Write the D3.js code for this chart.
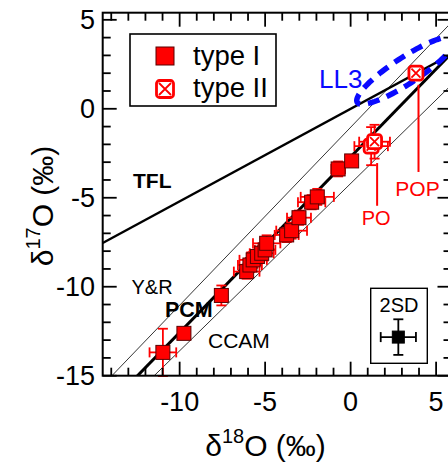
<!DOCTYPE html>
<html><head><meta charset="utf-8">
<script src="https://cdn.jsdelivr.net/npm/d3@7"></script>
<style>
body{margin:0;background:#fff;}
svg{display:block;font-family:"Liberation Sans",Arial,Helvetica,sans-serif;}
</style>
</head><body>
<svg id="c" width="448" height="467"></svg>
<script>
// ---------- data ----------
const typeIX  = [-10.98, -9.75, -7.56, -6.08, -5.89, -5.70, -5.45, -5.20, -5.00, -4.91, -3.74, -3.45, -3.02, -2.28, -1.95, -0.73, 0.06];
const typeIY  = [-13.69, -12.62, -10.49, -9.15, -8.78, -8.49, -8.30, -8.12, -7.93, -7.56, -7.09, -6.85, -6.12, -5.25, -4.95, -3.38, -2.93];
const typeIEX = [0.78, 0.20, 0.30, 0.75, 0.70, 0.80, 0.60, 0.70, 0.60, 0.80, 0.70, 0.90, 0.70, 0.80, 0.97, 0.40, 0.30];
const typeIEY = [1.33, 0.20, 0.56, 0.40, 0.40, 0.45, 0.40, 0.40, 0.35, 0.45, 0.40, 0.45, 0.40, 0.40, 0.45, 0.42, 0.30];

const typeIIX  = [1.20, 1.40, 3.82];
const typeIIY  = [-2.10, -1.85, 2.00];
const typeIIEX = [0.98, 0.90, 0];
const typeIIEY = [1.07, 0.95, 0];

const lineNames      = ["TFL", "PCM", "Y&R", "CCAM"];
const lineSlopes     = [0.52, 0.987, 1.00, 0.94];
const lineIntercepts = [0.00, -2.70, -1.04, -4.20];

const llCenter = [3.23, 2.15];
const llMajor  = [2.84, 1.79];
const llMinor  = [0.42, -0.615];

const sdX = [2.79], sdY = [-12.83], sdEX = [1.03], sdEY = [1.00];

const xMajorTicks = [-10, -5, 0, 5];
const yMajorTicks = [-15, -10, -5, 0, 5];
const xDomain = [-14.5, 5.9];
const yDomain = [-15, 5.4];

// ---------- layout ----------
const svg = d3.select("#c");
const L = 102.7, T = 12.7, B = 375.7, R = 451.5;
const x = d3.scaleLinear().domain(xDomain).range([L, R]);
const y = d3.scaleLinear().domain(yDomain).range([B, T]);
const RED = "#ff0000", DARK = "#5a0000", BLUE = "#0a0aff";

svg.append("defs").append("clipPath").attr("id","clip")
  .append("rect").attr("x",L).attr("y",T).attr("width",R-L).attr("height",B-T);
const plot = svg.append("g").attr("clip-path","url(#clip)");

// reference lines
const lineW = [2.4, 3, 0.8, 0.8];
lineNames.forEach((n,i)=>{
  const f = v => lineSlopes[i]*v + lineIntercepts[i];
  plot.append("path")
    .attr("d", d3.line()([[x(xDomain[0]), y(f(xDomain[0]))],[x(xDomain[1]), y(f(xDomain[1]))]]))
    .attr("stroke","#000").attr("stroke-width",lineW[i]).attr("fill","none");
});

// LL3 ellipse
const ts = d3.range(0, 361, 3).map(d=>d*Math.PI/180);
const ellPts = ts.map(t=>[
  x(llCenter[0] + llMajor[0]*Math.cos(t) + llMinor[0]*Math.sin(t)),
  y(llCenter[1] + llMajor[1]*Math.cos(t) + llMinor[1]*Math.sin(t))]);
plot.append("path").attr("d", d3.line()(ellPts)+"Z")
  .attr("fill","none").attr("stroke",BLUE).attr("stroke-width",5.5)
  .attr("stroke-dasharray","12,8");

// errorbar helper
function errbars(g, cx, cy, ex, ey, color, cap){
  const w = 1.8;
  if (ex>0){
    g.append("line").attr("x1",x(cx-ex)).attr("x2",x(cx+ex)).attr("y1",y(cy)).attr("y2",y(cy))
      .attr("stroke",color).attr("stroke-width",w);
    [cx-ex, cx+ex].forEach(v=>g.append("line").attr("x1",x(v)).attr("x2",x(v))
      .attr("y1",y(cy)-cap).attr("y2",y(cy)+cap).attr("stroke",color).attr("stroke-width",w));
  }
  if (ey>0){
    g.append("line").attr("x1",x(cx)).attr("x2",x(cx)).attr("y1",y(cy-ey)).attr("y2",y(cy+ey))
      .attr("stroke",color).attr("stroke-width",w);
    [cy-ey, cy+ey].forEach(v=>g.append("line").attr("y1",y(v)).attr("y2",y(v))
      .attr("x1",x(cx)-cap).attr("x2",x(cx)+cap).attr("stroke",color).attr("stroke-width",w));
  }
}
function sq(g, px, py, s, fill, stroke, sw){
  g.append("rect").attr("x",px-s/2).attr("y",py-s/2).attr("width",s).attr("height",s)
    .attr("fill",fill).attr("stroke",stroke).attr("stroke-width",sw);
}
function xsq(g, px, py, s){
  g.append("rect").attr("x",px-s/2).attr("y",py-s/2).attr("width",s).attr("height",s).attr("rx",3)
    .attr("fill","#fff").attr("stroke",RED).attr("stroke-width",2.8);
  const d = s/2-2.5;
  g.append("path").attr("d",`M${px-d},${py-d}L${px+d},${py+d}M${px+d},${py-d}L${px-d},${py+d}`)
    .attr("stroke",RED).attr("stroke-width",1.8);
}

// label pointer lines (PO, POP)
const ptrX = [1.55, 3.97], ptrY1 = [-3.05, 1.35], ptrY2 = [-5.45, -3.55];
const ptrText = ["PO", "POP"], ptrTextY = [-6.55, -4.9];
ptrX.forEach((v,i)=>{
  svg.append("line").attr("x1",x(v)).attr("x2",x(v)).attr("y1",y(ptrY1[i])).attr("y2",y(ptrY2[i]))
    .attr("stroke",RED).attr("stroke-width",2);
});

const pg = svg.append("g");
typeIX.forEach((v,i)=>errbars(pg, v, typeIY[i], typeIEX[i], typeIEY[i], RED, 5));
typeIX.forEach((v,i)=>sq(pg, x(v), y(typeIY[i]), 14, RED, DARK, 1));
typeIIX.forEach((v,i)=>errbars(pg, v, typeIIY[i], typeIIEX[i], typeIIEY[i], RED, 5));
typeIIX.forEach((v,i)=>xsq(pg, x(v), y(typeIIY[i]), 14));

ptrText.forEach((t,i)=>{
  svg.append("text").attr("x",x(ptrX[i])-1).attr("y",y(ptrTextY[i])).attr("text-anchor","middle")
    .attr("font-size",i==0?20:21).attr("fill",RED).text(t);
});

// frame + ticks
svg.append("rect").attr("x",L).attr("y",T).attr("width",R-L).attr("height",B-T)
  .attr("fill","none").attr("stroke","#000").attr("stroke-width",2);
const xMinor = d3.range(Math.ceil(xDomain[0]), Math.floor(xDomain[1])+1);
const yMinor = d3.range(Math.ceil(yDomain[0]), Math.floor(yDomain[1])+1);
const tk = svg.append("g").attr("stroke","#000").attr("stroke-width",1.8);
xMinor.forEach(v=>{
  const len = xMajorTicks.includes(v)?14:8;
  tk.append("line").attr("x1",x(v)).attr("x2",x(v)).attr("y1",B).attr("y2",B-len);
  tk.append("line").attr("x1",x(v)).attr("x2",x(v)).attr("y1",T).attr("y2",T+len);
});
yMinor.forEach(v=>{
  const len = yMajorTicks.includes(v)?14:8;
  tk.append("line").attr("y1",y(v)).attr("y2",y(v)).attr("x1",L).attr("x2",L+len);
  tk.append("line").attr("y1",y(v)).attr("y2",y(v)).attr("x1",R).attr("x2",R-len);
});
xMajorTicks.forEach(v=>svg.append("text").attr("x",x(v)).attr("y",410.5)
  .attr("text-anchor","middle").attr("font-size",27).text(v<0?"-"+(-v):v));
yMajorTicks.forEach(v=>svg.append("text").attr("x",95).attr("y",y(v)+9.5)
  .attr("text-anchor","end").attr("font-size",27).text(v<0?"-"+(-v):v));

// axis titles
const xt = svg.append("text").attr("x",265.5).attr("y",456).attr("text-anchor","middle").attr("font-size",30);
xt.append("tspan").text("δ");
xt.append("tspan").attr("font-size",20).attr("dy",-13).text("18");
xt.append("tspan").attr("dy",13).text("O (‰)");
const yt = svg.append("text").attr("transform","translate(53,206) rotate(-90)").attr("text-anchor","middle").attr("font-size",30);
yt.append("tspan").text("δ");
yt.append("tspan").attr("font-size",20).attr("dy",-13).text("17");
yt.append("tspan").attr("dy",13).text("O (‰)");

// line labels
const labText = ["TFL","Y&R","PCM","CCAM"];
const labX = [133, 131.5, 165, 208], labY = [188, 294, 316.7, 348.3];
const labBold = [true,false,true,false], labSize = [21,20,21.5,21];
labText.forEach((t,i)=>svg.append("text").attr("x",labX[i]).attr("y",labY[i])
  .attr("font-size",labSize[i]).attr("font-weight",labBold[i]?"bold":"normal").text(t));
svg.append("text").attr("x",319).attr("y",88.3).attr("font-size",26).attr("fill",BLUE).text("LL3");

// legend
svg.append("rect").attr("x",130).attr("y",34).attr("width",146).attr("height",72)
  .attr("fill","#fff").attr("stroke","#000").attr("stroke-width",1.6);
sq(svg, 165, 56, 18, RED, DARK, 1);
xsq(svg, 165, 89, 17);
svg.append("text").attr("x",193).attr("y",65).attr("font-size",27.5).text("type I");
svg.append("text").attr("x",193).attr("y",97).attr("font-size",27.5).text("type II");

// 2SD inset
svg.append("rect").attr("x",370.7).attr("y",288.3).attr("width",56.6).attr("height",75)
  .attr("fill","#fff").attr("stroke","#000").attr("stroke-width",1.4);
svg.append("text").attr("x",399).attr("y",311.5).attr("text-anchor","middle").attr("font-size",20).text("2SD");
sdX.forEach((v,i)=>{
  errbars(svg, v, sdY[i], sdEX[i], sdEY[i], "#000", 5);
  sq(svg, x(v), y(sdY[i]), 12, "#000", "#000", 1);
});
</script>
</body></html>
